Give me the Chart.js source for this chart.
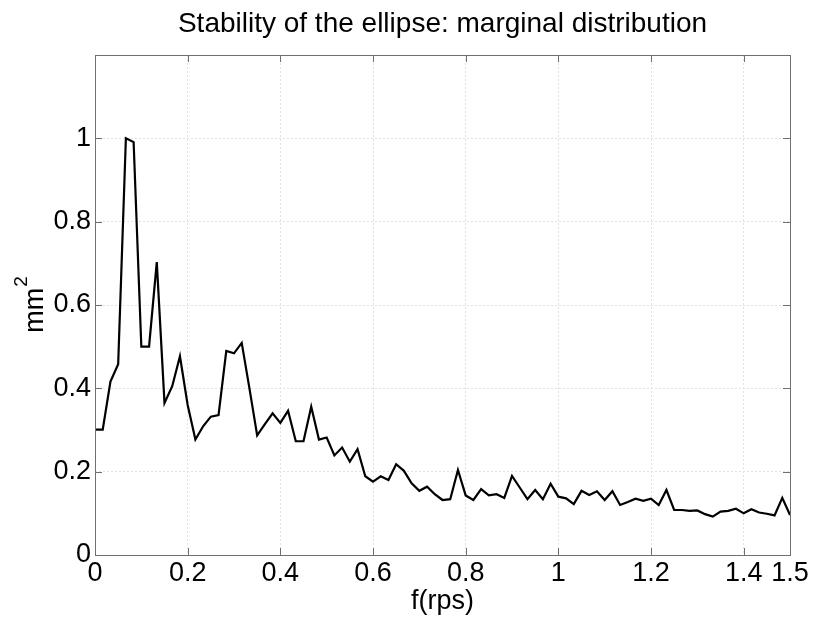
<!DOCTYPE html>
<html>
<head>
<meta charset="utf-8">
<script src="https://cdn.jsdelivr.net/npm/chart.js@4/dist/chart.umd.min.js"></script>
<style>
  html, body { margin: 0; padding: 0; background: #fff; }
  #wrap { width: 815px; height: 618px; }
</style>
</head>
<body>
<div id="wrap"><canvas id="spectrum"></canvas></div>
<script>
// frequency grid spacing (rps) and marginal distribution values (mm^2)
const freqStep = 1 / 60;
const marginal = [
  0.301, 0.301, 0.416, 0.458, 1.000, 0.991, 0.500, 0.500, 0.703, 0.365,
  0.405, 0.477, 0.360, 0.277, 0.309, 0.332, 0.336, 0.490, 0.484, 0.509,
  0.400, 0.287, 0.314, 0.340, 0.317, 0.346, 0.273, 0.273, 0.356, 0.277,
  0.282, 0.239, 0.258, 0.224, 0.254, 0.189, 0.176, 0.189, 0.180, 0.218,
  0.202, 0.172, 0.154, 0.164, 0.146, 0.132, 0.134, 0.204, 0.143, 0.132,
  0.158, 0.143, 0.146, 0.137, 0.190, 0.162, 0.134, 0.156, 0.134, 0.171,
  0.140, 0.136, 0.122, 0.154, 0.144, 0.153, 0.132, 0.153, 0.120, 0.127,
  0.135, 0.130, 0.135, 0.120, 0.156, 0.108, 0.108, 0.106, 0.107, 0.098,
  0.092, 0.104, 0.106, 0.111, 0.100, 0.110, 0.102, 0.099, 0.095, 0.137,
  0.096
];
const xTicks = [0, 0.2, 0.4, 0.6, 0.8, 1, 1.2, 1.4, 1.5];
const yTicks = [0, 0.2, 0.4, 0.6, 0.8, 1];

const points = marginal.map((v, i) => ({ x: i * freqStep, y: v }));

const FONT = '"Liberation Sans", Arial, sans-serif';
const AXIS_COLOR = '#707070';
const fmt = v => String(Math.round(v * 10) / 10);

// MATLAB-style box with inward ticks on all four sides, title centred on the plot,
// and the y label with a real superscript
const boxTicks = {
  id: 'boxTicks',
  afterDatasetsDraw(chart) {
    const { ctx, chartArea: a, scales } = chart;
    const len = 7;
    ctx.save();
    ctx.strokeStyle = AXIS_COLOR;
    ctx.lineWidth = 1;
    ctx.beginPath();
    xTicks.forEach(v => {
      const px = Math.round(scales.x.getPixelForValue(v)) + 0.5;
      ctx.moveTo(px, a.bottom); ctx.lineTo(px, a.bottom - len);
      ctx.moveTo(px, a.top); ctx.lineTo(px, a.top + len);
    });
    yTicks.forEach(v => {
      const py = Math.round(scales.y.getPixelForValue(v)) + 0.5;
      ctx.moveTo(a.left, py); ctx.lineTo(a.left + len, py);
      ctx.moveTo(a.right, py); ctx.lineTo(a.right - len, py);
    });
    ctx.stroke();
    ctx.strokeRect(Math.round(a.left) + 0.5, Math.round(a.top) + 0.5,
      Math.round(a.right - a.left), Math.round(a.bottom - a.top));

    ctx.fillStyle = '#000';
    ctx.font = '28px ' + FONT;
    ctx.textAlign = 'center';
    ctx.textBaseline = 'alphabetic';
    ctx.fillText('Stability of the ellipse: marginal distribution', (a.left + a.right) / 2, 32);

    // y axis label: mm^2
    ctx.translate(43, (a.top + a.bottom) / 2);
    ctx.rotate(-Math.PI / 2);
    ctx.font = '27px ' + FONT;
    const wMain = ctx.measureText('mm').width;
    ctx.font = '19px ' + FONT;
    const wSup = ctx.measureText('2').width;
    const start = -(wMain + wSup) / 2;
    ctx.textAlign = 'left';
    ctx.font = '27px ' + FONT;
    ctx.fillText('mm', start, 0);
    ctx.font = '19px ' + FONT;
    ctx.fillText('2', start + wMain + 1, -16);
    ctx.restore();
  }
};

new Chart(document.getElementById('spectrum').getContext('2d'), {
  type: 'line',
  data: {
    datasets: [{
      data: points,
      borderColor: '#000',
      borderWidth: 2.2,
      pointRadius: 0,
      tension: 0,
      fill: false
    }]
  },
  options: {
    responsive: true,
    maintainAspectRatio: false,
    animation: false,
    layout: { padding: { top: 55, right: 25, left: 0, bottom: 0 } },
    plugins: {
      legend: { display: false },
      title: { display: false },
      tooltip: { enabled: false }
    },
    scales: {
      x: {
        type: 'linear',
        min: 0,
        max: 1.5,
        afterBuildTicks: s => { s.ticks = xTicks.map(v => ({ value: v })); },
        afterFit: s => { s.height = 63; },
        grid: { color: '#e2e2e2', drawTicks: false },
        border: { display: false, dash: [2, 2] },
        ticks: {
          color: '#000',
          font: { size: 27, family: FONT },
          padding: 2,
          maxRotation: 0,
          autoSkip: false,
          callback: fmt
        },
        title: {
          display: true,
          text: 'f(rps)',
          color: '#000',
          font: { size: 27, family: FONT },
          padding: { top: 0, bottom: 0 }
        }
      },
      y: {
        min: 0,
        max: 1.2,
        afterBuildTicks: s => { s.ticks = yTicks.map(v => ({ value: v })); },
        afterFit: s => { s.width = 95; },
        grid: { color: '#e2e2e2', drawTicks: false },
        border: { display: false, dash: [2, 2] },
        ticks: {
          color: '#000',
          font: { size: 27, family: FONT },
          padding: 4,
          callback: fmt
        },
        title: { display: false }
      }
    }
  },
  plugins: [boxTicks]
});
</script>
</body>
</html>
